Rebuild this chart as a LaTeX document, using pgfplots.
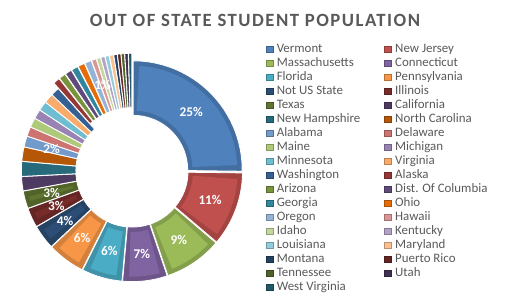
\documentclass[border=0pt]{standalone}
\usepackage{pgfplots}
\pgfplotsset{compat=1.18}
\usepackage{pgfplotstable}
\usepackage{fontspec}
\setmainfont{Carlito}
\newfontfamily\titlefont[LetterSpace=8]{Carlito}

\definecolor{textgray}{HTML}{595959}
\definecolor{c1}{HTML}{4F81BD}\definecolor{c2}{HTML}{C0504D}\definecolor{c3}{HTML}{9BBB59}
\definecolor{c4}{HTML}{8064A2}\definecolor{c5}{HTML}{4BACC6}\definecolor{c6}{HTML}{F79646}
\definecolor{c7}{HTML}{2C4D75}\definecolor{c8}{HTML}{772C2A}\definecolor{c9}{HTML}{5F7530}
\definecolor{c10}{HTML}{4D3B62}\definecolor{c11}{HTML}{276A7C}\definecolor{c12}{HTML}{B65708}
\definecolor{c13}{HTML}{729ACA}\definecolor{c14}{HTML}{CD7371}\definecolor{c15}{HTML}{AFC97A}
\definecolor{c16}{HTML}{9983B5}\definecolor{c17}{HTML}{6FBDD1}\definecolor{c18}{HTML}{F9AB6B}
\definecolor{c19}{HTML}{376092}\definecolor{c20}{HTML}{953735}\definecolor{c21}{HTML}{77933C}
\definecolor{c22}{HTML}{604A7B}\definecolor{c23}{HTML}{31859C}\definecolor{c24}{HTML}{E46C0A}
\definecolor{c25}{HTML}{95B3D7}\definecolor{c26}{HTML}{D99694}\definecolor{c27}{HTML}{C3D69B}
\definecolor{c28}{HTML}{B3A2C7}\definecolor{c29}{HTML}{93CDDD}\definecolor{c30}{HTML}{FAC090}
\definecolor{c31}{HTML}{244062}\definecolor{c32}{HTML}{632523}\definecolor{c33}{HTML}{4F6228}
\definecolor{c34}{HTML}{403151}\definecolor{c35}{HTML}{215968}

\pgfplotstableread[col sep=comma]{
name,value,col,expl,lab
Vermont,25.2,c1,0.015,1
New Jersey,11.0,c2,0.015,1
Massachusetts,8.6,c3,0.015,1
Connecticut,6.6,c4,0.015,1
Florida,6.0,c5,0.015,1
Pennsylvania,5.6,c6,0.015,1
Not US State,3.6,c7,0.015,1
Illinois,2.9,c8,0.015,1
Texas,2.6,c9,0.015,1
California,2.1,c10,0.015,0
New Hampshire,2.2,c11,0.015,0
North Carolina,2.1,c12,0.015,0
Alabama,1.6,c13,0.015,1
Delaware,1.4,c14,0.015,0
Maine,1.4,c15,0.015,0
Michigan,1.4,c16,0.015,0
Minnesota,1.4,c17,0.015,0
Virginia,1.4,c18,0.015,0
Washington,1.3,c19,0.015,0
Alaska,1.0,c20,0.08,0
Arizona,1.0,c21,0.08,0
Dist. Of Columbia,1.0,c22,0.08,0
Georgia,1.0,c23,0.08,0
Ohio,1.0,c24,0.08,0
Oregon,1.0,c25,0.08,0
Hawaii,0.7,c26,0.08,1
Idaho,0.6,c27,0.08,0
Kentucky,0.6,c28,0.08,0
Louisiana,0.6,c29,0.08,0
Maryland,0.6,c30,0.08,0
Montana,0.5,c31,0.08,0
Puerto Rico,0.5,c32,0.08,0
Tennessee,0.5,c33,0.08,0
Utah,0.5,c34,0.08,0
West Virginia,0.5,c35,0.08,0
}\slices

\tikzset{slicelabel/.style={text=white, inner sep=0pt, font=\bfseries\fontsize{13.3bp}{15bp}\selectfont}}

\begin{document}
\begin{tikzpicture}
\useasboundingbox (0,0) rectangle (512bp,300bp);
\begin{axis}[
  x=109bp, y=109bp,
  xmin=-1.21101, xmax=3.48624, ymin=-1.18349, ymax=1.56881,
  anchor=south west, at={(0,0)},
  hide axis, clip=false,
  legend columns=2,
  legend cell align=left,
  legend image code/.code={\filldraw[#1, line width=0.3bp] (0bp,-3.2bp) rectangle (6.5bp,3.2bp);},
  legend style={draw=none, fill=none, inner sep=0pt, outer sep=0pt,
    at={(0.51953,0.859)}, anchor=north west,
    font=\fontsize{12.9bp}{14bp}\selectfont, text=textgray,
    row sep=0pt, column sep=0pt,
    nodes={inner sep=1bp, text height=8.8bp, text depth=3.2bp},
    /tikz/every odd column/.append style={column sep=3bp},
    /tikz/every even column/.append style={column sep=23bp}},
]
\addlegendimage{fill=c1,draw=c1!75!black}\addlegendentry{Vermont}
\addlegendimage{fill=c2,draw=c2!75!black}\addlegendentry{New Jersey}
\addlegendimage{fill=c3,draw=c3!75!black}\addlegendentry{Massachusetts}
\addlegendimage{fill=c4,draw=c4!75!black}\addlegendentry{Connecticut}
\addlegendimage{fill=c5,draw=c5!75!black}\addlegendentry{Florida}
\addlegendimage{fill=c6,draw=c6!75!black}\addlegendentry{Pennsylvania}
\addlegendimage{fill=c7,draw=c7!75!black}\addlegendentry{Not US State}
\addlegendimage{fill=c8,draw=c8!75!black}\addlegendentry{Illinois}
\addlegendimage{fill=c9,draw=c9!75!black}\addlegendentry{Texas}
\addlegendimage{fill=c10,draw=c10!75!black}\addlegendentry{California}
\addlegendimage{fill=c11,draw=c11!75!black}\addlegendentry{New Hampshire}
\addlegendimage{fill=c12,draw=c12!75!black}\addlegendentry{North Carolina}
\addlegendimage{fill=c13,draw=c13!75!black}\addlegendentry{Alabama}
\addlegendimage{fill=c14,draw=c14!75!black}\addlegendentry{Delaware}
\addlegendimage{fill=c15,draw=c15!75!black}\addlegendentry{Maine}
\addlegendimage{fill=c16,draw=c16!75!black}\addlegendentry{Michigan}
\addlegendimage{fill=c17,draw=c17!75!black}\addlegendentry{Minnesota}
\addlegendimage{fill=c18,draw=c18!75!black}\addlegendentry{Virginia}
\addlegendimage{fill=c19,draw=c19!75!black}\addlegendentry{Washington}
\addlegendimage{fill=c20,draw=c20!75!black}\addlegendentry{Alaska}
\addlegendimage{fill=c21,draw=c21!75!black}\addlegendentry{Arizona}
\addlegendimage{fill=c22,draw=c22!75!black}\addlegendentry{Dist. Of Columbia}
\addlegendimage{fill=c23,draw=c23!75!black}\addlegendentry{Georgia}
\addlegendimage{fill=c24,draw=c24!75!black}\addlegendentry{Ohio}
\addlegendimage{fill=c25,draw=c25!75!black}\addlegendentry{Oregon}
\addlegendimage{fill=c26,draw=c26!75!black}\addlegendentry{Hawaii}
\addlegendimage{fill=c27,draw=c27!75!black}\addlegendentry{Idaho}
\addlegendimage{fill=c28,draw=c28!75!black}\addlegendentry{Kentucky}
\addlegendimage{fill=c29,draw=c29!75!black}\addlegendentry{Louisiana}
\addlegendimage{fill=c30,draw=c30!75!black}\addlegendentry{Maryland}
\addlegendimage{fill=c31,draw=c31!75!black}\addlegendentry{Montana}
\addlegendimage{fill=c32,draw=c32!75!black}\addlegendentry{Puerto Rico}
\addlegendimage{fill=c33,draw=c33!75!black}\addlegendentry{Tennessee}
\addlegendimage{fill=c34,draw=c34!75!black}\addlegendentry{Utah}
\addlegendimage{fill=c35,draw=c35!75!black}\addlegendentry{West Virginia}

\pgfplotstablegetrowsof{\slices}
\pgfmathtruncatemacro\N{\pgfplotsretval-1}
% slices
\def\cum{0}
\pgfplotsforeachungrouped \i in {0,...,\N}{%
  \pgfplotstablegetelem{\i}{value}\of\slices \let\v\pgfplotsretval
  \pgfplotstablegetelem{\i}{col}\of\slices \let\c\pgfplotsretval
  \pgfplotstablegetelem{\i}{expl}\of\slices \let\e\pgfplotsretval
  \pgfmathsetmacro\ta{90-3.6*\cum}%
  \pgfmathsetmacro\tb{90-3.6*(\cum+\v)}%
  \pgfmathsetmacro\tm{(\ta+\tb)/2}%
  \pgfmathsetmacro\ex{\e*cos(\tm)}%
  \pgfmathsetmacro\ey{\e*sin(\tm)}%
  \pgfmathsetmacro\xa{\ex+0.5*cos(\ta)}\pgfmathsetmacro\ya{\ey+0.5*sin(\ta)}%
  \pgfmathsetmacro\xA{\ex+cos(\ta)}\pgfmathsetmacro\yA{\ey+sin(\ta)}%
  \pgfmathsetmacro\xb{\ex+0.5*cos(\tb)}\pgfmathsetmacro\yb{\ey+0.5*sin(\tb)}%
  \pgfmathparse{\v>2.5 ? 1 : 0}%
  \ifdim\pgfmathresult pt>0.5pt
    \edef\cmd{\noexpand\fill[\c!85!black, draw=white, line width=0.8bp]
      (axis cs:\xa,\ya) -- (axis cs:\xA,\yA) arc[start angle=\ta, end angle=\tb, radius=109bp]
      -- (axis cs:\xb,\yb) arc[start angle=\tb, end angle=\ta, radius=54.5bp] -- cycle;}%
    \cmd
    \pgfmathsetmacro\tai{\ta-3.4}\pgfmathsetmacro\tbi{\tb+3.4}%
    \pgfmathsetmacro\xa{\ex+0.545*cos(\tai)}\pgfmathsetmacro\ya{\ey+0.545*sin(\tai)}%
    \pgfmathsetmacro\xA{\ex+0.955*cos(\tai)}\pgfmathsetmacro\yA{\ey+0.955*sin(\tai)}%
    \pgfmathsetmacro\xb{\ex+0.545*cos(\tbi)}\pgfmathsetmacro\yb{\ey+0.545*sin(\tbi)}%
    \edef\cmd{\noexpand\fill[\c]
      (axis cs:\xa,\ya) -- (axis cs:\xA,\yA) arc[start angle=\tai, end angle=\tbi, radius=104.1bp]
      -- (axis cs:\xb,\yb) arc[start angle=\tbi, end angle=\tai, radius=59.4bp] -- cycle;}%
    \cmd
  \else
    \edef\cmd{\noexpand\fill[\c, draw=white, line width=0.8bp]
      (axis cs:\xa,\ya) -- (axis cs:\xA,\yA) arc[start angle=\ta, end angle=\tb, radius=109bp]
      -- (axis cs:\xb,\yb) arc[start angle=\tb, end angle=\ta, radius=54.5bp] -- cycle;}%
    \cmd
  \fi
  \pgfmathsetmacro\cum{\cum+\v}%
}
% labels
\def\cum{0}
\pgfplotsforeachungrouped \i in {0,...,\N}{%
  \pgfplotstablegetelem{\i}{value}\of\slices \let\v\pgfplotsretval
  \pgfplotstablegetelem{\i}{expl}\of\slices \let\e\pgfplotsretval
  \pgfplotstablegetelem{\i}{lab}\of\slices \let\l\pgfplotsretval
  \ifnum\l=1
    \pgfmathsetmacro\tm{90-3.6*(\cum+\v/2)}%
    \pgfmathsetmacro\lx{(\e+0.75)*cos(\tm)}\pgfmathsetmacro\ly{(\e+0.75)*sin(\tm)}%
    \pgfmathtruncatemacro\pct{round(\v)}%
    \edef\cmd{\noexpand\node[slicelabel] at (axis cs:\lx,\ly) {\pct\noexpand\%};}%
    \cmd
  \fi
  \pgfmathsetmacro\cum{\cum+\v}%
}
\end{axis}
\node[font=\titlefont\bfseries\fontsize{18.7bp}{20bp}\selectfont, text=textgray, inner sep=0pt] at (255bp,279.2bp) {OUT OF STATE STUDENT POPULATION};
\end{tikzpicture}
\end{document}
